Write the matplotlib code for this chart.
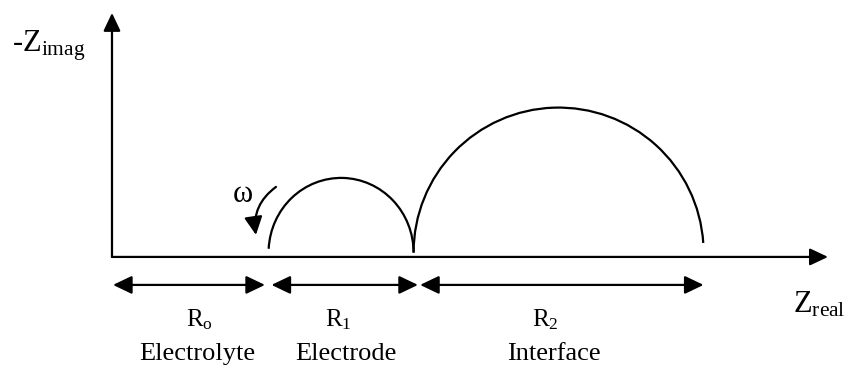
import matplotlib
matplotlib.use("Agg")
import matplotlib.pyplot as plt
from matplotlib.patches import Arc, FancyArrowPatch

plt.rcParams["font.family"] = ["Liberation Serif", "DejaVu Serif"]
plt.rcParams["mathtext.fontset"] = "custom"
plt.rcParams["mathtext.rm"] = "Liberation Serif"
plt.rcParams["mathtext.it"] = "Liberation Serif:italic"

# Resistances (arbitrary units) of the three contributions
segments = ["Electrolyte", "Electrode", "Interface"]
symbols = [r"$\mathrm{R_o}$", r"$\mathrm{R_1}$", r"$\mathrm{R_2}$"]
resistances = [1.08, 1.0, 2.0]

R0, R1, R2 = resistances
base = 0.03  # arcs sit just above the real axis

fig = plt.figure(figsize=(8.45, 3.68), dpi=100)
ax = fig.add_axes([0, 0, 1, 1])
ax.set_xlim(-0.772, 5.055)
ax.set_ylim(-0.766, 1.772)
ax.set_aspect("equal")
ax.axis("off")

lw = 1.6
axis_style = dict(arrowstyle="-|>,head_length=1.1,head_width=0.52",
                  mutation_scale=10, lw=lw, color="black",
                  shrinkA=0, shrinkB=0)

# Axes with arrow heads
ax.add_patch(FancyArrowPatch((0, 0), (0, 1.683), **axis_style))
ax.add_patch(FancyArrowPatch((0, 0), (4.938, 0), **axis_style))

# Semicircles of the Nyquist plot
ax.add_patch(Arc((R0 + R1 / 2, base), R1, R1 * 1.03, theta1=0, theta2=177,
                 lw=lw, color="black"))
ax.add_patch(Arc((R0 + R1 + R2 / 2, base), R2, R2, theta1=3.8, theta2=180,
                 lw=lw, color="black"))

# Frequency direction arrow
ax.add_patch(FancyArrowPatch((1.131, 0.483), (0.993, 0.152),
                             connectionstyle="arc3,rad=0.3",
                             arrowstyle="-|>,head_length=1.1,head_width=0.55",
                             mutation_scale=10, lw=lw, color="black",
                             shrinkA=0, shrinkB=0))
ax.text(0.903, 0.43, "ω", fontsize=22, ha="center", va="center")

# Dimension arrows below the real axis
dim_style = dict(arrowstyle="<|-|>,head_length=1.15,head_width=0.55",
                 mutation_scale=10, lw=lw, color="black",
                 shrinkA=0, shrinkB=0)
starts = [0.0, R0, R0 + R1]
dim_y = -0.193
pads = [(0.007, 0.025), (0.02, -0.03), (0.045, 0.0)]
for (s, r, (pl, pr)) in zip(starts, resistances, pads):
    ax.add_patch(FancyArrowPatch((s + pl, dim_y), (s + r - pr, dim_y),
                                 **dim_style))

label_dx = [0.06, -0.02, -0.09]
name_dx = [0.05, 0.03, -0.03]
for s, r, sym, name, dx, ndx in zip(starts, resistances, symbols, segments,
                                    label_dx, name_dx):
    mid = s + r / 2
    ax.text(mid + dx, -0.476, sym, fontsize=18, ha="center", va="baseline")
    ax.text(mid + ndx, -0.71, name, fontsize=19, ha="center", va="baseline")

# Axis titles
ax.text(-0.69, 1.414, r"-$\mathrm{Z_{imag}}$", fontsize=22,
        ha="left", va="baseline")
ax.text(4.697, -0.386, r"$\mathrm{Z_{real}}$", fontsize=22,
        ha="left", va="baseline")

fig.savefig("out.png", dpi=100)
